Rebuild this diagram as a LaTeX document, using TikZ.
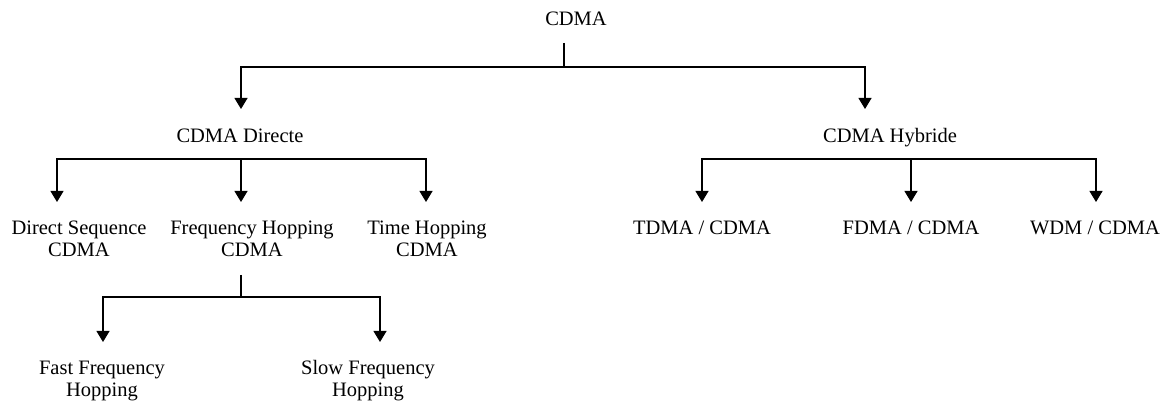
\documentclass[tikz,border=0pt]{standalone}
\usepackage{fontspec}
\setmainfont{Liberation Serif}
\usetikzlibrary{arrows.meta}
\tikzset{
  label/.style={inner sep=0pt, outer sep=0pt, anchor=base, align=center,
    font=\fontsize{20.5}{22.5}\selectfont},
  link/.style={line width=1.2pt, black},
  down/.style={link, -{Triangle[width=13pt,length=11pt]}}
}
\begin{document}
\begin{tikzpicture}[x=1pt,y=-1pt]
  \useasboundingbox (0,0) rectangle (1168,403);

  % labels (two-line labels are placed by the baseline of their last line)
  \node[label] (cdma)  at (576,26)  {CDMA};
  \node[label] (dir)   at (240,143) {CDMA Directe};
  \node[label] (hyb)   at (890,143) {CDMA Hybride};
  \node[label] (ds)    at (79,257)  {Direct Sequence\\CDMA};
  \node[label] (fh)    at (252,257) {Frequency Hopping\\CDMA};
  \node[label] (th)    at (427,257) {Time Hopping\\CDMA};
  \node[label] (tdma)  at (702,235) {TDMA / CDMA};
  \node[label] (fdma)  at (911,235) {FDMA / CDMA};
  \node[label] (wdm)   at (1095,235) {WDM / CDMA};
  \node[label] (ffh)   at (102,397) {Fast Frequency\\Hopping};
  \node[label] (sfh)   at (368,397) {Slow Frequency\\Hopping};

  % junction points and arrow tips
  \coordinate (cdmaStem) at (564,43);
  \coordinate (cdmaBus)  at (564,67);
  \coordinate (dirTip)   at (241,109);
  \coordinate (hybTip)   at (865,109);

  \coordinate (dsTip)   at (57,202);
  \coordinate (fhTip)   at (241,202);
  \coordinate (thTip)   at (426,202);
  \coordinate (tdmaTip) at (702,202);
  \coordinate (fdmaTip) at (911,202);
  \coordinate (wdmTip)  at (1096,202);
  \coordinate (dirBus)  at (241,159);
  \coordinate (hybBus)  at (911,159);

  \coordinate (fhStem)  at (241,275);
  \coordinate (fhBus)   at (241,297);
  \coordinate (ffhTip)  at (103,342);
  \coordinate (sfhTip)  at (380,342);

  % CDMA -> two families
  \draw[link] (cdmaStem) -- (cdmaBus);
  \draw[down] (cdmaBus) -| (dirTip);
  \draw[down] (cdmaBus) -| (hybTip);

  % CDMA Directe -> three techniques
  \draw[down] (dirBus) -| (dsTip);
  \draw[down] (dirBus) -- (fhTip);
  \draw[down] (dirBus) -| (thTip);

  % CDMA Hybride -> three combinations
  \draw[down] (hybBus) -| (tdmaTip);
  \draw[down] (hybBus) -- (fdmaTip);
  \draw[down] (hybBus) -| (wdmTip);

  % Frequency Hopping -> fast / slow
  \draw[link] (fhStem) -- (fhBus);
  \draw[down] (fhBus) -| (ffhTip);
  \draw[down] (fhBus) -| (sfhTip);
\end{tikzpicture}
\end{document}
